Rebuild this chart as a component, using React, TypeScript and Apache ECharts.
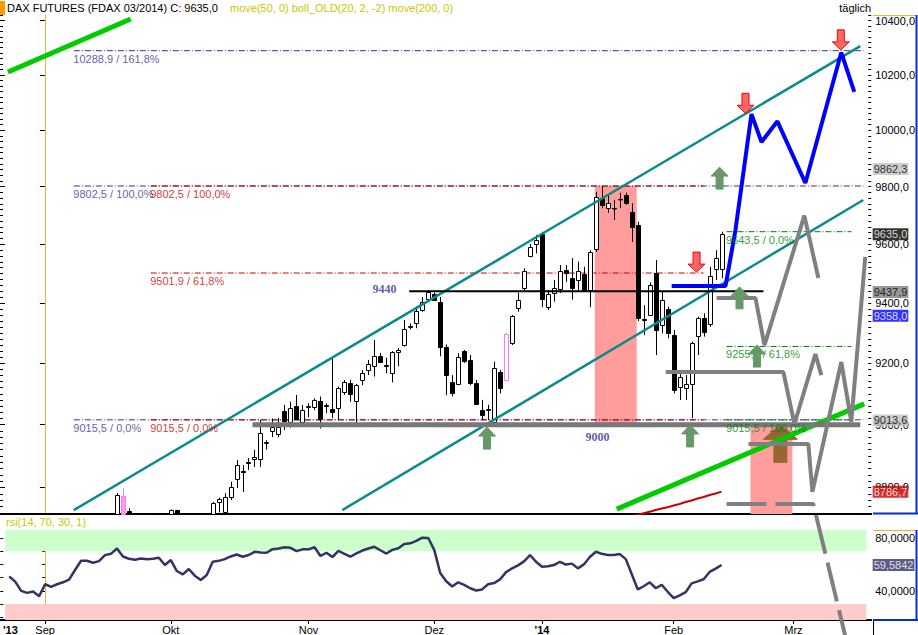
import React, { useEffect, useRef } from "react";
import * as echarts from "echarts";

const FONT = "'Liberation Sans', Arial, sans-serif";
const SERIF = "'Liberation Serif', 'Times New Roman', serif";

// ---- axes ranges (trading-day index; Sep 2 2013 = 0) ----
const X_MIN = -7.5;
const X_MAX = 138;
const PRICE_MIN = 8716.7;
const PRICE_MAX = 10421.2;
const RSI_MIN = 18;
const RSI_MAX = 86;

// ---- daily candles [open, high, low, close], first one at index FIRST_CANDLE ----
const FIRST_CANDLE = -7;
const candles: number[][] = [
  [8420, 8440, 8340, 8360], [8360, 8400, 8300, 8330], [8330, 8380, 8280, 8300], [8300, 8320, 8200, 8230],
  [8230, 8300, 8200, 8270], [8270, 8290, 8180, 8200], [8200, 8250, 8170, 8230], [8230, 8320, 8220, 8300],
  [8300, 8330, 8250, 8280], [8280, 8320, 8260, 8300], [8300, 8340, 8280, 8320], [8320, 8380, 8300, 8360],
  [8360, 8480, 8350, 8470], [8470, 8540, 8460, 8530], [8530, 8560, 8500, 8540], [8540, 8560, 8500, 8520],
  [8520, 8580, 8510, 8570], [8570, 8660, 8560, 8650], [8650, 8690, 8620, 8670], [8670, 8782, 8660, 8776],
  [8773, 8798, 8690, 8700], [8726, 8735, 8660, 8680], [8680, 8715, 8650, 8700], [8700, 8712, 8640, 8660],
  [8660, 8700, 8630, 8690], [8690, 8720, 8670, 8700], [8700, 8710, 8620, 8640], [8640, 8700, 8620, 8690],
  [8690, 8731, 8680, 8729], [8729, 8730, 8640, 8650], [8650, 8690, 8610, 8630], [8630, 8680, 8600, 8670],
  [8670, 8680, 8590, 8600], [8600, 8620, 8530, 8560], [8560, 8630, 8550, 8620], [8625, 8755, 8615, 8751],
  [8754, 8768, 8722, 8764], [8722, 8782, 8710, 8770], [8770, 8818, 8760, 8801], [8826, 8887, 8798, 8871],
  [8853, 8871, 8786, 8850], [8880, 8893, 8855, 8877], [8890, 8919, 8865, 8895], [8890, 9015, 8865, 8973],
  [8941, 8950, 8920, 8943], [8978, 9020, 8960, 8993], [8971, 9022, 8960, 8993], [9044, 9064, 8983, 9012],
  [9010, 9074, 8990, 9054], [9061, 9096, 9015, 9018], [9010, 9064, 8999, 9047], [9057, 9069, 9024, 9059],
  [9058, 9085, 9047, 9080], [9077, 9091, 8988, 9017], [9060, 9069, 9037, 9062], [9050, 9218, 9021, 9042],
  [9053, 9123, 9015, 9118], [9107, 9145, 9096, 9140], [9136, 9145, 9074, 9099], [9075, 9132, 9004, 9128],
  [9145, 9178, 9128, 9169], [9178, 9211, 9161, 9196], [9190, 9277, 9156, 9225], [9223, 9234, 9201, 9204],
  [9193, 9218, 9167, 9191], [9169, 9240, 9137, 9238], [9238, 9250, 9190, 9244], [9260, 9343, 9255, 9312],
  [9320, 9332, 9312, 9325], [9334, 9388, 9316, 9373], [9377, 9421, 9371, 9405], [9413, 9444, 9408, 9436],
  [9431, 9436, 9408, 9411], [9405, 9421, 9223, 9252], [9255, 9262, 9095, 9161], [9139, 9161, 9091, 9101],
  [9132, 9233, 9128, 9220], [9240, 9244, 9201, 9207], [9211, 9227, 9128, 9136], [9134, 9145, 9064, 9067],
  [9047, 9080, 9015, 9031], [9048, 9064, 9015, 9050], [9010, 9205, 9004, 9183], [9170, 9178, 9101, 9120],
  [9146, 9300, 9140, 9297], [9267, 9360, 9260, 9357], [9383, 9436, 9371, 9411], [9451, 9518, 9439, 9508],
  [9561, 9601, 9555, 9592], [9600, 9632, 9569, 9615], [9637, 9643, 9386, 9415], [9388, 9444, 9377, 9430],
  [9435, 9478, 9405, 9450], [9447, 9529, 9434, 9508], [9512, 9529, 9472, 9501], [9485, 9553, 9412, 9451],
  [9478, 9541, 9440, 9508], [9500, 9523, 9440, 9446], [9446, 9580, 9386, 9575], [9583, 9782, 9574, 9765],
  [9760, 9802, 9725, 9736], [9725, 9771, 9708, 9742], [9727, 9753, 9684, 9724], [9756, 9779, 9725, 9757],
  [9771, 9779, 9736, 9742], [9713, 9742, 9608, 9661], [9666, 9678, 9340, 9351], [9347, 9393, 9293, 9345],
  [9360, 9470, 9357, 9461], [9501, 9546, 9227, 9310], [9327, 9439, 9299, 9411], [9380, 9388, 9283, 9299],
  [9293, 9310, 9101, 9112], [9123, 9178, 9080, 9154], [9119, 9161, 9080, 9132], [9131, 9271, 9021, 9268],
  [9290, 9355, 9227, 9349], [9351, 9366, 9288, 9304], [9330, 9523, 9321, 9492], [9515, 9580, 9478, 9552],
  [9515, 9643.5, 9484, 9635],
];
const pinkCandleIdx = [13, 77];

// ---- RSI(14) from index RSI_START ----
const RSI_START = -6;
const rsiValues = [
  51, 47, 40, 38.5, 39.5, 36, 45, 43, 45, 46.5,
  48.5, 55.8, 62.8, 62.8, 61.3, 62.5, 67, 68, 72, 66,
  64.3, 63.5, 64.4, 63.9, 64.2, 65, 59.5, 63.3, 55, 52.5,
  56.5, 51.5, 48.2, 52, 62, 62.7, 64, 66, 67.5, 65.8,
  67.1, 69.5, 69, 68.8, 71.5, 72, 72.9, 72.5, 70, 71.4,
  71.4, 73, 66.4, 68.8, 65.6, 70.2, 68, 65.8, 68.4, 70.5,
  72, 73.3, 70.7, 68.2, 71, 72.2, 75.5, 75.9, 77.8, 80.2,
  80, 71, 53.5, 47.3, 43.3, 46.5, 44.6, 42, 40.3, 41.1,
  45, 45.9, 48.7, 54.2, 57, 59.3, 62.3, 67, 62, 58.3,
  58.6, 59.5, 62, 59.9, 60.6, 57, 60, 65.6, 69.6, 68,
  67.1, 67.1, 67.8, 64, 52.6, 41.1, 43.5, 46.5, 42, 44.6,
  39.3, 34.5, 36.6, 39, 45.7, 47.2, 48.8, 54.3, 56.8, 59.5842,
];

// ---- move(200) from index MA200_START ----
const MA200_START = 97;
const ma200Values = [8705, 8710, 8714, 8719, 8724, 8729, 8734, 8738, 8743, 8748, 8754, 8759, 8765, 8770, 8776, 8781, 8786.7];

// ---- axis ticks ----
const monthTickPos = [0, 21, 44, 65, 83, 105, 125];
const monthLabelPos = [-5.8, 0, 21, 44, 65, 83, 105, 125];
const monthLabels = ["'13", "Sep", "Okt", "Nov", "Dez", "'14", "Feb", "Mrz"];
const yearLabels = ["'13", "'14"];
const priceTickLabels = [8800, 9000, 9200, 9400, 9600, 9800, 10000, 10200, 10400];
const rsiTickLabels = [40, 80];
const rsiMinorTicks = [20, 30, 40, 50, 60, 70, 80];

// ---- Fibonacci sets ----
const blueFibLevels = [9015.5, 9802.5, 10288.9];
const blueFibPct = ["0,0%", "100,0%", "161,8%"];
const blueFibSpan = [4.83, 136.7];
const redFibLevels = [9015.5, 9501.9, 9802.5];
const redFibPct = ["0,0%", "61,8%", "100,0%"];
const redFibSpan = [17.67, 110];
const greenFibLevels = [9643.5, 9255.4, 9015.5];
const greenFibPct = ["0,0%", "61,8%", "100,0%"];
const greenFibSpan = [113.83, 134.7];

// ---- drawn trend lines [index, price] ----
const channelUpper = [[4.83, 8729], [136.17, 10306]];
const channelLower = [[49.67, 8729], [136.67, 9753.5]];
const greenTrendTop = [[-6.17, 10211], [14.33, 10406]];
const greenTrendBottom = [[95.5, 8732], [136.83, 9067]];
const resistance9440 = [[60.83, 9440], [120, 9440]];
const support9000 = [[34.67, 9000], [136.17, 9000]];

// ---- projections ----
const blueProjection = [[104.67, 9458], [113.67, 9458], [115.33, 9650], [118, 10058], [119.67, 9958], [122.33, 10032], [127, 9813], [133, 10282], [135.17, 10138]];
const greyProjA = [[112.17, 9417], [118.67, 9417], [120.17, 9260], [126.83, 9699], [129.17, 9485]];
const greyProjB = [[103.67, 9171], [123.33, 9171], [125.17, 9002], [128.67, 9230], [129.67, 9161]];
const greyProjC = [[117.5, 8938], [127.5, 8938], [128.17, 8786], [133, 9204], [134.67, 9009], [137, 9557]];
const greyProjDashed = [[113.83, 8748], [128.33, 8748], [133.83, 8332]];

// ---- arrows (tip position) ----
const redArrows = [[108.83, 9505], [117, 10061], [132.92, 10292]];
const greenArrows = [[73.83, 8992], [107.75, 8999], [112.67, 9869], [116, 9455], [118.92, 9260]];
const brownArrows = [[122.83, 9001]];

// ---- shaded zones [fromIdx, toIdx, priceTop, priceBottom] ----
const pinkZones = [[91.83, 98.83, 9802.5, 9000], [117.83, 124.83, 8992, PRICE_MIN]];

// ---- text marks ----
const levelTexts = [{ text: "9440", at: [56.7, 9447] }, { text: "9000", at: [92.3, 8960] }];

// ---- last-value boxes ----
const valueBoxes = [9862.3, 9635.0, 9437.9, 9358.0, 9013.6, 8786.7];
const valueBoxBg = ["#c0c0c0", "#000000", "#808080", "#0000ff", "#c0c0c0", "#cc0000"];
const valueBoxFg = ["#000", "#fff", "#000", "#fff", "#000", "#fff"];
const rsiLast = 59.5842;

const fmt1 = (v: number) => v.toFixed(1).replace(".", ",");
const fmt4 = (v: number) => v.toFixed(4).replace(".", ",");

function minorPriceTicks(): number[] {
  const out: number[] = [];
  for (let v = 8720; v <= 10420; v += 20) out.push(v);
  return out;
}

function lineSeries(name: string, data: number[][], color: string, width: number, z: number, type: any = "solid", extra: any = {}) {
  return {
    type: "line", name, xAxisIndex: 0, yAxisIndex: 0, data, symbol: "none", silent: true,
    lineStyle: { color, width, type, cap: "butt" }, z, ...extra,
  };
}

function zoneRender(color: string) {
  return (_p: any, api: any) => {
    const a = api.coord([api.value(0), api.value(2)]);
    const b = api.coord([api.value(1), api.value(3)]);
    return {
      type: "rect",
      shape: { x: Math.min(a[0], b[0]), y: Math.min(a[1], b[1]), width: Math.abs(b[0] - a[0]), height: Math.abs(b[1] - a[1]) },
      style: { fill: color },
    };
  };
}

function candleRender(params: any, api: any) {
  const cs = params.coordSys;
  const top = cs.y;
  const bottom = cs.y + cs.height;
  const clampY = (y: number) => Math.max(top, Math.min(bottom, y));
  const i = api.value(0);
  const o = api.value(1);
  const c = api.value(2);
  const l = api.value(3);
  const h = api.value(4);
  const pink = api.value(5) === 1;
  const [x, yo] = api.coord([i, o]);
  const yc = api.coord([i, c])[1];
  const yl = api.coord([i, l])[1];
  const yh = api.coord([i, h])[1];
  if (yh >= bottom) return null;
  const up = c >= o;
  const stroke = pink ? "#ff77ee" : "#000";
  const fill = up ? "#ffffff" : pink ? "#ff99ee" : "#000000";
  const cx = Math.round(x) + 0.5;
  const children: any[] = [
    { type: "line", shape: { x1: cx, y1: clampY(yh), x2: cx, y2: clampY(yl) }, style: { stroke, lineWidth: 1 } },
  ];
  const bTop = clampY(Math.min(yo, yc));
  const bBot = clampY(Math.max(yo, yc));
  if (bTop < bottom) {
    children.push({
      type: "rect",
      shape: { x: cx - 2, y: Math.round(bTop) + 0.5, width: 4, height: Math.max(0.5, Math.round(bBot) - Math.round(bTop)) },
      style: { fill, stroke, lineWidth: 1 },
    });
  }
  return { type: "group", children };
}

function arrowRender(dir: "up" | "down", fill: string, stroke: string, w: number, h: number, stemW: number, headH: number) {
  return (_p: any, api: any) => {
    const [x, y] = api.coord([api.value(0), api.value(1)]);
    const s = dir === "up" ? 1 : -1;
    const pts = [
      [x, y], [x + w / 2, y + s * headH], [x + stemW / 2, y + s * headH], [x + stemW / 2, y + s * h],
      [x - stemW / 2, y + s * h], [x - stemW / 2, y + s * headH], [x - w / 2, y + s * headH],
    ];
    return { type: "polygon", shape: { points: pts }, style: { fill, stroke, lineWidth: 1 } };
  };
}

function buildOption() {
  const candleData = candles.map((c, k) => {
    const i = FIRST_CANDLE + k;
    return [i, c[0], c[3], c[2], c[1], pinkCandleIdx.includes(i) ? 1 : 0];
  });

  const fibSeries: any[] = [];
  const fibTexts: any[] = [];
  const addFib = (levels: number[], pcts: string[], span: number[], color: string, z: number) => {
    levels.forEach((lv, k) => {
      fibSeries.push(lineSeries("fib", [[span[0], lv], [span[1], lv]], color, 1, z, [6, 2, 1, 2]));
      fibTexts.push({
        value: [span[0], lv],
        label: { formatter: `${fmt1(lv)} / ${pcts[k]}`, color, position: [0, 3] },
      });
    });
  };
  addFib(blueFibLevels, blueFibPct, blueFibSpan, "#333399", 2);
  addFib(redFibLevels, redFibPct, redFibSpan, "#cc0000", 2.1);
  addFib(greenFibLevels, greenFibPct, greenFibSpan, "#008000", 2.2);

  const levelTextData = levelTexts.map((t) => ({
    value: t.at,
    label: {
      formatter: t.text, position: "inside", color: "#333399", fontFamily: SERIF, fontWeight: "bold", fontSize: 12,
    },
  }));

  const boxData = valueBoxes.map((v, k) => ({
    value: [X_MAX - 0.01, v],
    label: { formatter: fmt1(v), backgroundColor: valueBoxBg[k], color: valueBoxFg[k] },
  }));

  const rsiData = rsiValues.map((v, k) => [RSI_START + k, v]);
  const maData = ma200Values.map((v, k) => [MA200_START + k, v]);

  const minor = minorPriceTicks();

  const priceAxisBase = {
    type: "log", logBase: 10, gridIndex: 0, min: PRICE_MIN, max: PRICE_MAX,
    splitLine: { show: false },
  };

  return {
    animation: false,
    backgroundColor: "#ffffff",
    textStyle: { fontFamily: FONT },
    grid: [
      { left: 0, top: 15, width: 873, height: 499, containLabel: false },
      { left: 0, top: 530, width: 873, height: 90, containLabel: false },
    ],
    xAxis: [
      {
        type: "value", gridIndex: 0, min: X_MIN, max: X_MAX,
        axisLine: { show: true, onZero: false, lineStyle: { color: "#000", width: 2 } },
        axisTick: { show: false }, axisLabel: { show: false }, splitLine: { show: false },
      },
      {
        type: "value", gridIndex: 1, min: X_MIN, max: X_MAX,
        axisLine: { show: true, onZero: false, lineStyle: { color: "#000", width: 2 } },
        axisTick: { show: true, customValues: monthTickPos, length: 4, lineStyle: { color: "#000" } },
        axisLabel: {
          customValues: monthLabelPos, color: "#000", fontSize: 11, fontFamily: FONT, margin: 4,
          formatter: (v: number) => {
            let best = 0;
            monthLabelPos.forEach((p, k) => { if (Math.abs(p - v) < Math.abs(monthLabelPos[best] - v)) best = k; });
            const t = monthLabels[best];
            return yearLabels.includes(t) ? `{y|${t}}` : t;
          },
          rich: { y: { fontWeight: "bold", fontSize: 11, fontFamily: FONT, color: "#000" } },
        },
        splitLine: { show: false },
      },
    ],
    yAxis: [
      {
        ...priceAxisBase, position: "right",
        axisLine: { show: true, lineStyle: { color: "#f2b233", width: 1 } },
        axisTick: { show: true, inside: true, length: 5, customValues: priceTickLabels, lineStyle: { color: "#000" } },
        axisLabel: { show: true, customValues: priceTickLabels, formatter: (v: number) => fmt1(v), color: "#000", fontSize: 11, fontFamily: FONT, margin: 4 },
      },
      {
        ...priceAxisBase, position: "right",
        axisLine: { show: false },
        axisTick: { show: true, inside: true, length: 3, customValues: minor, lineStyle: { color: "#000" } },
        axisLabel: { show: false },
      },
      {
        ...priceAxisBase, position: "left",
        axisLine: { show: false },
        axisTick: { show: true, inside: true, length: 3, customValues: minor, lineStyle: { color: "#000" } },
        axisLabel: { show: false },
      },
      {
        ...priceAxisBase, position: "left",
        axisLine: { show: false },
        axisTick: { show: true, inside: true, length: 5, customValues: priceTickLabels, lineStyle: { color: "#000" } },
        axisLabel: { show: false },
      },
      {
        type: "value", gridIndex: 1, min: RSI_MIN, max: RSI_MAX, position: "right",
        axisLine: { show: true, lineStyle: { color: "#f2b233", width: 1 } },
        axisTick: { show: true, inside: true, length: 3, customValues: rsiMinorTicks, lineStyle: { color: "#000" } },
        axisLabel: { show: true, customValues: rsiTickLabels, formatter: (v: number) => fmt4(v), color: "#000", fontSize: 11, fontFamily: FONT, margin: 4 },
        splitLine: { show: false },
      },
      {
        type: "value", gridIndex: 1, min: RSI_MIN, max: RSI_MAX, position: "left",
        axisLine: { show: false },
        axisTick: { show: true, inside: true, length: 3, customValues: rsiMinorTicks, lineStyle: { color: "#000" } },
        axisLabel: { show: false }, splitLine: { show: false },
      },
    ],
    series: [
      {
        type: "custom", name: "zones", xAxisIndex: 0, yAxisIndex: 0, z: 1, silent: true,
        renderItem: zoneRender("#ff9c9c"), encode: { x: [0, 1], y: [2, 3] }, data: pinkZones,
      },
      ...fibSeries,
      {
        type: "custom", name: "FDAX", xAxisIndex: 0, yAxisIndex: 0, z: 3, silent: true,
        renderItem: candleRender, encode: { x: 0, y: [1, 2, 3, 4] }, data: candleData,
      },
      lineSeries("move200", maData, "#cc0000", 2, 4),
      {
        type: "custom", name: "brownArrows", xAxisIndex: 0, yAxisIndex: 0, z: 4.5, silent: true,
        renderItem: arrowRender("up", "#996633", "#996633", 34, 38, 13, 15), encode: { x: 0, y: 1 }, data: brownArrows,
      },
      lineSeries("channelUpper", channelUpper, "#0a8a8a", 2.5, 5),
      lineSeries("channelLower", channelLower, "#0a8a8a", 2.5, 5),
      lineSeries("greenTop", greenTrendTop, "#00cc00", 5, 5),
      lineSeries("greenBottom", greenTrendBottom, "#00cc00", 5, 5),
      lineSeries("r9440", resistance9440, "#000000", 2, 5),
      lineSeries("s9000", support9000, "#777777", 5, 5),
      lineSeries("projB", greyProjB, "#808080", 4, 6),
      lineSeries("projC", greyProjC, "#808080", 4, 6),
      lineSeries("projA", greyProjA, "#808080", 4, 6),
      lineSeries("projD", greyProjDashed, "#808080", 4, 6, [40, 9], { clip: false }),
      lineSeries("projBlue", blueProjection, "#0000ff", 4, 6.5),
      {
        type: "custom", name: "greenArrows", xAxisIndex: 0, yAxisIndex: 0, z: 8, silent: true,
        renderItem: arrowRender("up", "#669966", "#669966", 17, 22, 7, 9), encode: { x: 0, y: 1 }, data: greenArrows,
      },
      {
        type: "custom", name: "redArrows", xAxisIndex: 0, yAxisIndex: 0, z: 8, silent: true,
        renderItem: arrowRender("down", "#ff6666", "#ee0000", 17, 20, 7, 8), encode: { x: 0, y: 1 }, data: redArrows,
      },
      {
        type: "scatter", name: "texts", xAxisIndex: 0, yAxisIndex: 0, z: 7, silent: true,
        symbolSize: 1, itemStyle: { color: "rgba(0,0,0,0)" },
        label: { show: true, fontSize: 11, fontFamily: FONT },
        data: [...fibTexts, ...levelTextData],
      },
      {
        type: "scatter", name: "boxes", xAxisIndex: 0, yAxisIndex: 0, z: 9, silent: true,
        symbolSize: 1, itemStyle: { color: "rgba(0,0,0,0)" },
        label: { show: true, position: "right", distance: 1, fontSize: 11, fontFamily: FONT, padding: [1, 1, 0, 1] },
        data: boxData,
      },
      {
        type: "custom", name: "rsiHigh", xAxisIndex: 1, yAxisIndex: 4, z: 1, silent: true,
        renderItem: zoneRender("#ccffcc"), encode: { x: [0, 1], y: [2, 3] }, data: [[-6.67, 137.17, RSI_MAX, 70]],
      },
      {
        type: "custom", name: "rsiLow", xAxisIndex: 1, yAxisIndex: 4, z: 1, silent: true,
        renderItem: zoneRender("#ffcccc"), encode: { x: [0, 1], y: [2, 3] }, data: [[-6.67, 137.17, 30, RSI_MIN]],
      },
      {
        type: "line", name: "rsi", xAxisIndex: 1, yAxisIndex: 4, data: rsiData, symbol: "none", silent: true, z: 3,
        lineStyle: { color: "#333366", width: 2.5 },
      },
      {
        type: "scatter", name: "rsiBox", xAxisIndex: 1, yAxisIndex: 4, z: 9, silent: true,
        symbolSize: 1, itemStyle: { color: "rgba(0,0,0,0)" },
        label: { show: true, position: "right", distance: 1, fontSize: 11, fontFamily: FONT, padding: [1, 1, 0, 1], backgroundColor: "#333366", color: "#fff", formatter: fmt4(rsiLast) },
        data: [[X_MAX - 0.01, rsiLast]],
      },
    ],
    graphic: [
      { type: "rect", shape: { x: 0, y: 1, width: 5, height: 14 }, style: { fill: "#ff9900" }, silent: true },
      { type: "text", x: 7, y: 8, style: { text: "DAX FUTURES (FDAX 03/2014) C: 9635,0", fill: "#000", fontSize: 11, fontFamily: FONT, verticalAlign: "middle" }, silent: true },
      { type: "text", x: 230, y: 8, style: { text: "move(50, 0) boll_OLD(20, 2, -2) move(200, 0)", fill: "#c8c800", fontSize: 11, fontFamily: FONT, verticalAlign: "middle" }, silent: true },
      { type: "text", x: 871, y: 8, style: { text: "täglich", fill: "#000", fontSize: 11, fontFamily: FONT, align: "right", verticalAlign: "middle" }, silent: true },
      { type: "text", x: 6, y: 522, style: { text: "rsi(14, 70, 30, 1)", fill: "#c8c800", fontSize: 11, fontFamily: FONT, verticalAlign: "middle" }, silent: true },
      // axis boxes
      { type: "line", shape: { x1: 873, y1: 15.5, x2: 917, y2: 15.5 }, style: { stroke: "#f2b233", lineWidth: 1 }, silent: true },
      { type: "line", shape: { x1: 916.5, y1: 15, x2: 916.5, y2: 514 }, style: { stroke: "#0033cc", lineWidth: 2 }, silent: true },
      { type: "line", shape: { x1: 873, y1: 513.5, x2: 918, y2: 513.5 }, style: { stroke: "#0033cc", lineWidth: 2 }, silent: true },
      { type: "line", shape: { x1: 873, y1: 530.5, x2: 917, y2: 530.5 }, style: { stroke: "#f2b233", lineWidth: 1 }, silent: true },
      { type: "line", shape: { x1: 916.5, y1: 530, x2: 916.5, y2: 620 }, style: { stroke: "#0033cc", lineWidth: 2 }, silent: true },
      { type: "line", shape: { x1: 873, y1: 620, x2: 918, y2: 620 }, style: { stroke: "#0033cc", lineWidth: 2 }, silent: true },
      { type: "line", shape: { x1: 873.5, y1: 620, x2: 873.5, y2: 635 }, style: { stroke: "#000", lineWidth: 1 }, silent: true },
    ],
  };
}

export default function App() {
  const ref = useRef<HTMLDivElement>(null);
  useEffect(() => {
    if (!ref.current) return;
    const chart = echarts.init(ref.current, null, { renderer: "svg" });
    chart.setOption(buildOption() as any);
    return () => chart.dispose();
  }, []);
  return <div ref={ref} style={{ position: "absolute", left: 0, top: 0, width: 918, height: 635, background: "#fff" }} />;
}
